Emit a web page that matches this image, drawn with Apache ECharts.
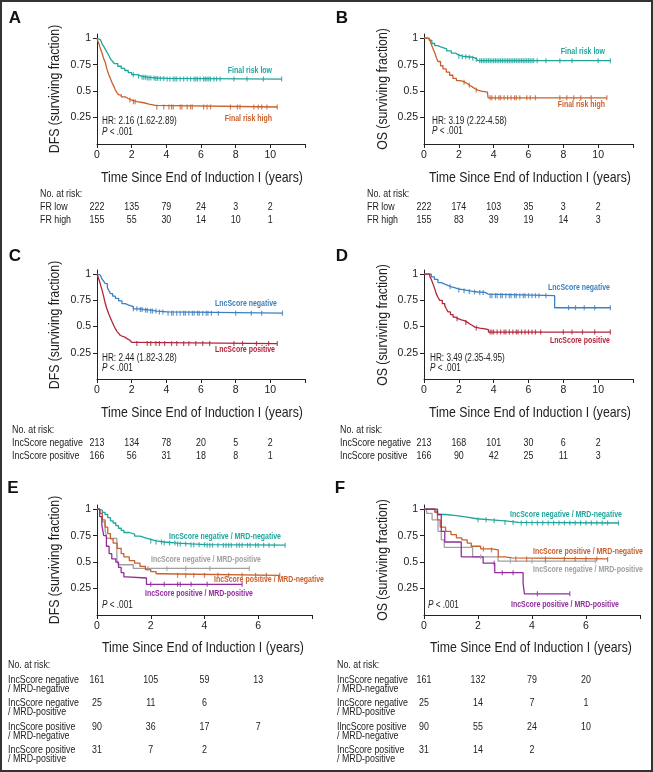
<!DOCTYPE html>
<html><head><meta charset="utf-8">
<script src="https://cdn.jsdelivr.net/npm/echarts@6/dist/echarts.min.js"></script>
<style>html,body{margin:0;padding:0;background:#fff}#c{width:653px;height:772px}</style>
</head><body><div id="c"></div>
<script>
// ---------------- DATA ----------------
const yTickValues = [0.25, 0.5, 0.75, 1];
const xLabelsLong = [0, 2, 4, 6, 8, 10];
const xLabelsShort = [0, 2, 4, 6];

// Panel A (DFS, final risk)
const aLowTime = [0,0.1,0.2,0.3,0.4,0.5,0.6,0.7,0.8,0.9,1.0,1.2,1.4,1.6,1.8,2.0,2.3,2.6,2.9,3.4,4.0,10.65];
const aLowSurv = [1,0.985,0.97,0.945,0.92,0.89,0.86,0.83,0.8,0.78,0.76,0.735,0.715,0.695,0.675,0.655,0.64,0.632,0.624,0.62,0.614,0.614];
const aLowCensor = [2.1,2.4,2.6,2.7,2.8,2.9,3.0,3.1,3.3,3.4,3.5,3.65,3.85,4.05,4.2,4.4,4.5,4.6,4.8,5.0,5.2,5.4,5.6,5.7,5.8,5.95,6.15,6.25,6.35,6.45,6.55,6.75,6.9,7.1,7.9,8.65,9.6,10.65];
const aHighTime = [0,0.06,0.13,0.2,0.29,0.38,0.48,0.57,0.67,0.77,0.87,0.97,1.06,1.15,1.25,1.4,1.63,1.8,2.0,2.3,2.7,3.0,3.37,10.4];
const aHighSurv = [1,0.97,0.94,0.9,0.86,0.81,0.77,0.71,0.66,0.62,0.58,0.545,0.51,0.485,0.465,0.445,0.43,0.415,0.4,0.39,0.377,0.365,0.35,0.35];
const aHighCensor = [1.9,2.1,2.2,3.45,3.85,4.15,4.3,4.4,4.8,4.9,5.2,5.4,5.5,6.15,6.35,6.55,7.7,8.1,8.25,9.05,9.3,9.5,9.8,10.4];

// Panel B (OS, final risk)
const bLowTime = [0,0.3,0.45,0.61,0.8,1.0,1.3,1.57,1.8,1.95,2.2,2.5,2.8,3.0,3.1,10.7];
const bLowSurv = [1,0.98,0.95,0.93,0.915,0.9,0.88,0.86,0.845,0.83,0.825,0.82,0.81,0.8,0.788,0.788];
const bLowCensor = [2.0,2.2,2.4,2.6,2.8,3.0,3.2,3.3,3.4,3.5,3.6,3.7,3.8,3.9,4.0,4.1,4.2,4.3,4.4,4.5,4.6,4.7,4.8,4.9,5.0,5.1,5.2,5.3,5.4,5.5,5.6,5.7,5.8,5.9,6.0,6.1,6.2,6.3,6.5,7.0,7.8,8.5,10.0,10.7];
const bHighTime = [0,0.2,0.33,0.42,0.52,0.62,0.7,0.8,0.95,1.09,1.28,1.47,1.66,1.86,2.1,2.34,2.5,2.62,2.78,2.91,3.1,3.3,3.64,3.68,10.5];
const bHighSurv = [1,0.99,0.98,0.94,0.9,0.86,0.82,0.78,0.74,0.71,0.68,0.65,0.62,0.6,0.585,0.57,0.555,0.54,0.525,0.51,0.5,0.49,0.48,0.437,0.437];
const bHighCensor = [2.3,2.6,3.0,3.8,3.9,4.1,4.3,4.4,4.6,4.8,5.0,5.2,5.3,5.5,5.9,6.1,6.4,7.8,8.2,8.6,9.0,9.6,10.5];

// Panel C (DFS, LncScore)
const cNegTime = [0,0.1,0.19,0.3,0.4,0.48,0.6,0.7,0.77,0.9,1.06,1.25,1.44,1.63,1.83,2.1,2.4,2.7,3.1,3.46,4.04,10.7];
const cNegSurv = [1,0.99,0.975,0.95,0.93,0.91,0.87,0.84,0.815,0.79,0.77,0.745,0.72,0.705,0.69,0.67,0.663,0.657,0.648,0.64,0.628,0.628];
const cNegCensor = [2.1,2.3,2.5,2.6,2.8,2.9,3.1,3.2,3.4,3.6,3.8,4.1,4.3,4.4,4.6,4.8,5.0,5.1,5.3,5.5,5.6,5.8,5.9,6.1,6.3,6.4,6.6,7.0,8.0,8.9,9.5,10.7];
const cPosTime = [0,0.07,0.13,0.2,0.29,0.38,0.48,0.57,0.67,0.77,0.87,0.97,1.06,1.15,1.25,1.35,1.44,1.6,1.73,1.9,2.0,2.3,10.4];
const cPosSurv = [1,0.97,0.94,0.9,0.85,0.79,0.72,0.67,0.625,0.585,0.546,0.51,0.48,0.455,0.435,0.415,0.4,0.385,0.37,0.36,0.35,0.338,0.338];
const cPosCensor = [2.3,2.9,3.1,3.4,3.6,3.9,4.3,4.6,5.0,5.3,5.7,6.1,6.5,7.9,8.4,9.2,9.9,10.4];

// Panel D (OS, LncScore)
const dNegTime = [0,0.42,0.6,0.8,1.0,1.19,1.4,1.58,1.8,1.96,2.3,2.54,2.8,3.1,3.5,3.7,7.5,10.7];
const dNegSurv = [1,0.975,0.95,0.92,0.905,0.89,0.88,0.87,0.86,0.85,0.843,0.836,0.83,0.826,0.81,0.795,0.68,0.68];
const dNegCensor = [1.5,2.0,2.3,2.6,2.9,3.2,3.4,3.8,3.9,4.1,4.2,4.4,4.5,4.7,4.9,5.0,5.2,5.3,5.5,5.7,5.8,6.0,6.2,6.4,6.6,7.0,8.3,8.7,9.2,9.8,10.7];
const dPosTime = [0,0.33,0.42,0.52,0.62,0.71,0.8,0.9,1.05,1.19,1.28,1.38,1.52,1.67,1.8,1.96,2.15,2.35,2.5,2.63,2.78,2.92,3.2,3.5,3.7,10.7];
const dPosSurv = [1,0.98,0.95,0.905,0.86,0.81,0.78,0.75,0.72,0.7,0.67,0.64,0.615,0.59,0.575,0.565,0.555,0.54,0.525,0.51,0.495,0.486,0.478,0.47,0.448,0.448];
const dPosCensor = [1.9,2.4,3.0,3.8,3.9,4.0,4.2,4.4,4.6,4.7,4.9,5.1,5.3,5.4,5.6,5.8,6.0,6.2,6.4,6.7,8.0,8.5,9.1,9.8,10.7];

// Panel E (DFS, LncScore x MRD)
const eNNTime = [0,0.1,0.2,0.3,0.4,0.5,0.6,0.7,0.8,0.9,1.0,1.2,1.4,1.6,1.8,2.0,2.2,2.5,3.0,3.5,4.05,7.0];
const eNNSurv = [1,0.99,0.97,0.95,0.92,0.89,0.87,0.845,0.82,0.8,0.78,0.765,0.745,0.73,0.715,0.7,0.69,0.68,0.672,0.665,0.66,0.66];
const eNNCensor = [2.0,2.2,2.4,2.5,2.7,2.9,3.0,3.1,3.3,3.5,3.6,3.8,4.0,4.1,4.2,4.3,4.5,4.7,4.8,4.9,5.0,5.2,5.3,5.4,5.6,5.7,5.9,6.0,6.2,6.4,6.6,7.0];
const eNPTime = [0,0.1,0.2,0.3,0.37,0.74,0.8,1.35,5.67];
const eNPSurv = [1,0.96,0.88,0.8,0.725,0.52,0.475,0.44,0.44];
const eNPCensor = [1.9,2.6,3.3,4.2,5.67];
const ePNTime = [0,0.1,0.2,0.3,0.4,0.5,0.6,0.75,0.9,1.0,1.2,1.4,1.6,1.8,2.0,2.2,2.35,6.8];
const ePNSurv = [1,0.96,0.9,0.83,0.77,0.72,0.68,0.63,0.58,0.55,0.515,0.49,0.46,0.43,0.41,0.39,0.375,0.375];
const ePNCensor = [3.0,3.3,3.6,4.0,4.5,4.9,5.4,5.9,6.3,6.8];
const ePPTime = [0,0.1,0.18,0.25,0.35,0.45,0.55,0.7,0.8,0.9,1.0,1.1,1.84,5.4];
const ePPSurv = [1,0.93,0.85,0.75,0.65,0.58,0.53,0.5,0.45,0.4,0.36,0.35,0.29,0.29];
const ePPCensor = [2.0,2.5,3.0,3.1,3.5,4.1,5.4];

// Panel F (OS, LncScore x MRD)
const fNNTime = [0,0.4,0.5,0.8,1.2,1.6,1.95,2.5,3.0,3.5,7.2];
const fNNSurv = [1,0.98,0.95,0.94,0.925,0.91,0.9,0.89,0.875,0.87,0.87];
const fNNCensor = [2.0,2.3,2.6,3.0,3.3,3.6,3.8,4.0,4.2,4.4,4.6,4.8,5.0,5.2,5.4,5.6,5.8,6.0,6.2,6.4,6.6,6.8,7.2];
const fNPTime = [0,0.1,0.3,0.52,0.64,0.75,1.8,2.74,6.35];
const fNPSurv = [1,0.96,0.9,0.79,0.71,0.64,0.55,0.51,0.51];
const fNPCensor = [2.1,3.2,4.0,4.5,6.35];
const fPNTime = [0,0.4,0.5,0.6,0.8,1.0,1.2,1.4,1.6,1.75,2.1,2.5,2.75,3.0,3.25,6.8];
const fPNSurv = [1,0.97,0.9,0.83,0.79,0.76,0.73,0.71,0.68,0.65,0.625,0.615,0.55,0.54,0.53,0.525];
const fPNCensor = [2.2,2.5,3.4,3.8,4.5,5.2,5.6,6.0,6.4,6.8];
const fPPTime = [0,0.5,0.64,0.77,1.38,2.19,2.62,3.67,3.72,5.4];
const fPPSurv = [1,0.95,0.79,0.69,0.55,0.49,0.4,0.3,0.2,0.2];
const fPPCensor = [2.6,2.9,3.3,4.2,5.4];

// Risk tables
const riskAB_labels = ['FR low', 'FR high'];
const riskA = [[222,135,79,24,3,2],[155,55,30,14,10,1]];
const riskB = [[222,174,103,35,3,2],[155,83,39,19,14,3]];
const riskCD_labels = ['IncScore negative', 'IncScore positive'];
const riskC = [[213,134,78,20,5,2],[166,56,31,18,8,1]];
const riskD = [[213,168,101,30,6,2],[166,90,42,25,11,3]];
const riskE_labels = [['IncScore negative','/ MRD-negative'],['IncScore negative','/ MRD-positive'],['IncScore positive','/ MRD-negative'],['IncScore positive','/ MRD-positive']];
const riskF_labels = [['IncScore negative','/ MRD-negative'],['IncScore negative','/ MRD-positive'],['IlncScore positive','/ MRD-negative'],['IncScore positive','/ MRD-positive']];
const riskE = [[161,105,59,13],[25,11,6],[90,36,17,7],[31,7,2]];
const riskF = [[161,132,79,20],[25,14,7,1],[90,55,24,10],[31,14,2]];

// ---------------- STYLE / LAYOUT ----------------
const FONT = "'Liberation Sans',Arial,sans-serif";
const NARROW = 0.82;
const INK = '#222';
const TEAL = '#1ea59c', ORANGE = '#c8602c', BLUE = '#3d80c2', RED = '#b3243a', GRAY = '#a0a0a0', PURPLE = '#922c9e';

const grids = [
  {left:97, top:34, width:208, height:110},
  {left:424, top:34, width:209, height:110},
  {left:97, top:270, width:208, height:109},
  {left:424, top:270, width:209, height:109},
  {left:97, top:505, width:215, height:110},
  {left:424, top:505, width:216, height:110}
];
const yNames = ['DFS (surviving fraction)','OS (surviving fraction)','DFS (surviving fraction)','OS (surviving fraction)','DFS (surviving fraction)','OS (surviving fraction)'];
const xName = 'Time Since End of Induction I (years)';
const xMax = [12,12,12,12,8,8];

const curves = [
  [0, aLowTime, aLowSurv, aLowCensor, TEAL], [0, aHighTime, aHighSurv, aHighCensor, ORANGE],
  [1, bLowTime, bLowSurv, bLowCensor, TEAL], [1, bHighTime, bHighSurv, bHighCensor, ORANGE],
  [2, cNegTime, cNegSurv, cNegCensor, BLUE], [2, cPosTime, cPosSurv, cPosCensor, RED],
  [3, dNegTime, dNegSurv, dNegCensor, BLUE], [3, dPosTime, dPosSurv, dPosCensor, RED],
  [4, eNNTime, eNNSurv, eNNCensor, TEAL], [4, eNPTime, eNPSurv, eNPCensor, GRAY],
  [4, ePNTime, ePNSurv, ePNCensor, ORANGE], [4, ePPTime, ePPSurv, ePPCensor, PURPLE],
  [5, fNNTime, fNNSurv, fNNCensor, TEAL], [5, fNPTime, fNPSurv, fNPCensor, GRAY],
  [5, fPNTime, fPNSurv, fPNCensor, ORANGE], [5, fPPTime, fPPSurv, fPPCensor, PURPLE]
];

function stepValue(times, surv, t) {
  let v = surv[0];
  for (let i = 0; i < times.length; i++) { if (times[i] <= t + 1e-9) v = surv[i]; }
  return v;
}

const xAxes = grids.map((g, i) => ({
  type:'value', gridIndex:i, min:0, max:xMax[i], interval:2,
  axisLine:{show:true, onZero:false, lineStyle:{color:INK, width:1}},
  axisTick:{show:true, length:4, lineStyle:{color:INK}},
  axisLabel:{customValues: i < 4 ? xLabelsLong : xLabelsShort, color:INK, fontFamily:FONT, fontSize:10.5, margin:6},
  splitLine:{show:false}
}));
const yAxes = grids.map((g, i) => ({
  type:'value', gridIndex:i, min:0, max:1.04,
  axisLine:{show:true, onZero:false, lineStyle:{color:INK, width:1}},
  axisTick:{show:true, length:4, customValues:yTickValues, lineStyle:{color:INK}},
  axisLabel:{customValues:yTickValues, color:INK, fontFamily:FONT, fontSize:10.5, margin:6},
  splitLine:{show:false}
}));

const series = [];
curves.forEach(([gi, tt, ss, cc, col]) => {
  series.push({
    type:'line', xAxisIndex:gi, yAxisIndex:gi, step:'end', showSymbol:false, silent:true,
    data: tt.map((t, k) => [t, ss[k]]),
    lineStyle:{color:col, width:1.3}, itemStyle:{color:col}, z:3
  });
  series.push({
    type:'scatter', xAxisIndex:gi, yAxisIndex:gi, silent:true,
    symbol:'rect', symbolSize:[1.2, 5],
    data: cc.map(t => [t, stepValue(tt, ss, t)]),
    itemStyle:{color:col}, z:4
  });
});

const chart = echarts.init(document.getElementById('c'), null, {renderer:'canvas'});
chart.setOption({
  animation:false,
  backgroundColor:'#fff',
  grid: grids.map(g => Object.assign({containLabel:false}, g)),
  xAxis: xAxes, yAxis: yAxes, series: series
});

// ---------------- TEXT (graphic, horizontally condensed) ----------------
const G = [];
function txt(x, y, s, o) {
  o = o || {};
  G.push({type:'text', x:x, y:y, rotation:o.rot || 0, scaleX:o.sx || NARROW, silent:true, z:10, style:Object.assign({
    text:s, fill:o.fill || INK, font:(o.weight||'normal') + ' ' + (o.size||10) + 'px ' + FONT,
    textAlign:o.align || 'left', textVerticalAlign:'middle'
  }, o.rich ? {rich:o.rich} : {})});
}
// frame
G.push({type:'rect', silent:true, z:0, shape:{x:1, y:1, width:651, height:770}, style:{fill:null, stroke:'#333', lineWidth:2}});
// panel letters
[['A',15,18],['B',342,18],['C',15,256],['D',342,256],['E',13,488],['F',340,488]].forEach(([s,x,y]) =>
  txt(x, y, s, {weight:'bold', size:17, align:'center', sx:1, fill:'#111'}));

// axis titles
[[202,178],[530,178],[202,413],[530,413],[203,648],[531,648]].forEach(([x,y]) => txt(x, y, xName, {size:15, align:'center'}));
[[55,89],[383,89],[55,325],[383,325],[55,560],[383,560]].forEach(([x,y], i) => txt(x, y, yNames[i], {size:15, align:'center', rot:Math.PI/2}));

// curve annotations
const lab = (x, y, s, col) => txt(x, y, s, {fill:col, weight:'bold', size:8.5, align:'right'});
lab(272, 71, 'Final risk low', TEAL); lab(272, 119, 'Final risk high', ORANGE);
lab(605, 52, 'Final risk low', TEAL); lab(605, 105, 'Final risk high', ORANGE);
lab(277, 304, 'LncScore negative', BLUE); lab(275, 350, 'LncScore positive', RED);
lab(610, 288, 'LncScore negative', BLUE); lab(610, 341, 'LncScore positive', RED);
lab(281, 537, 'IncScore negative / MRD-negative', TEAL); lab(261, 560, 'IncScore negative / MRD-positive', GRAY);
lab(324, 580, 'IncScore positive / MRD-negative', ORANGE); lab(253, 594, 'IncScore positive / MRD-positive', PURPLE);
lab(622, 515, 'IncScore negative / MRD-negative', TEAL); lab(643, 552, 'IncScore positive / MRD-negative', ORANGE);
lab(643, 570, 'IncScore negative / MRD-positive', GRAY); lab(619, 605, 'IncScore positive / MRD-positive', PURPLE);

// HR / P
const pRich = {i:{font:'italic 10px ' + FONT, fill:INK}};
txt(102, 121, 'HR: 2.16 (1.62-2.89)'); txt(102, 132, '{i|P} < .001', {rich:pRich});
txt(432, 121, 'HR: 3.19 (2.22-4.58)'); txt(432, 131, '{i|P} < .001', {rich:pRich});
txt(102, 358, 'HR: 2.44 (1.82-3.28)'); txt(102, 368, '{i|P} < .001', {rich:pRich});
txt(430, 358, 'HR: 3.49 (2.35-4.95)'); txt(430, 368, '{i|P} < .001', {rich:pRich});
txt(102, 605, '{i|P} < .001', {rich:pRich});
txt(428, 605, '{i|P} < .001', {rich:pRich});

// risk tables, numbers centered on the axis ticks
const RS = 10.8;
function riskTable(gi, labelX, headY, rowYs, labels, rows) {
  txt(labelX, headY, 'No. at risk:', {size:RS});
  rows.forEach((row, r) => {
    const lb = labels[r];
    if (Array.isArray(lb)) { txt(labelX, rowYs[r], lb[0], {size:RS}); txt(labelX, rowYs[r] + 9.5, lb[1], {size:RS}); }
    else txt(labelX, rowYs[r], lb, {size:RS});
    row.forEach((v, k) => {
      const px = chart.convertToPixel({xAxisIndex:gi}, k * 2);
      txt(px, rowYs[r], String(v), {align:'center', size:RS});
    });
  });
}
riskTable(0, 40, 194, [207, 220], riskAB_labels, riskA);
riskTable(1, 367, 194, [207, 220], riskAB_labels, riskB);
riskTable(2, 12, 430, [443, 456], riskCD_labels, riskC);
riskTable(3, 340, 430, [443, 456], riskCD_labels, riskD);
riskTable(4, 8, 665, [680, 703, 727, 750], riskE_labels, riskE);
riskTable(5, 337, 665, [680, 703, 727, 750], riskF_labels, riskF);

chart.setOption({graphic: G});
</script></body></html>
